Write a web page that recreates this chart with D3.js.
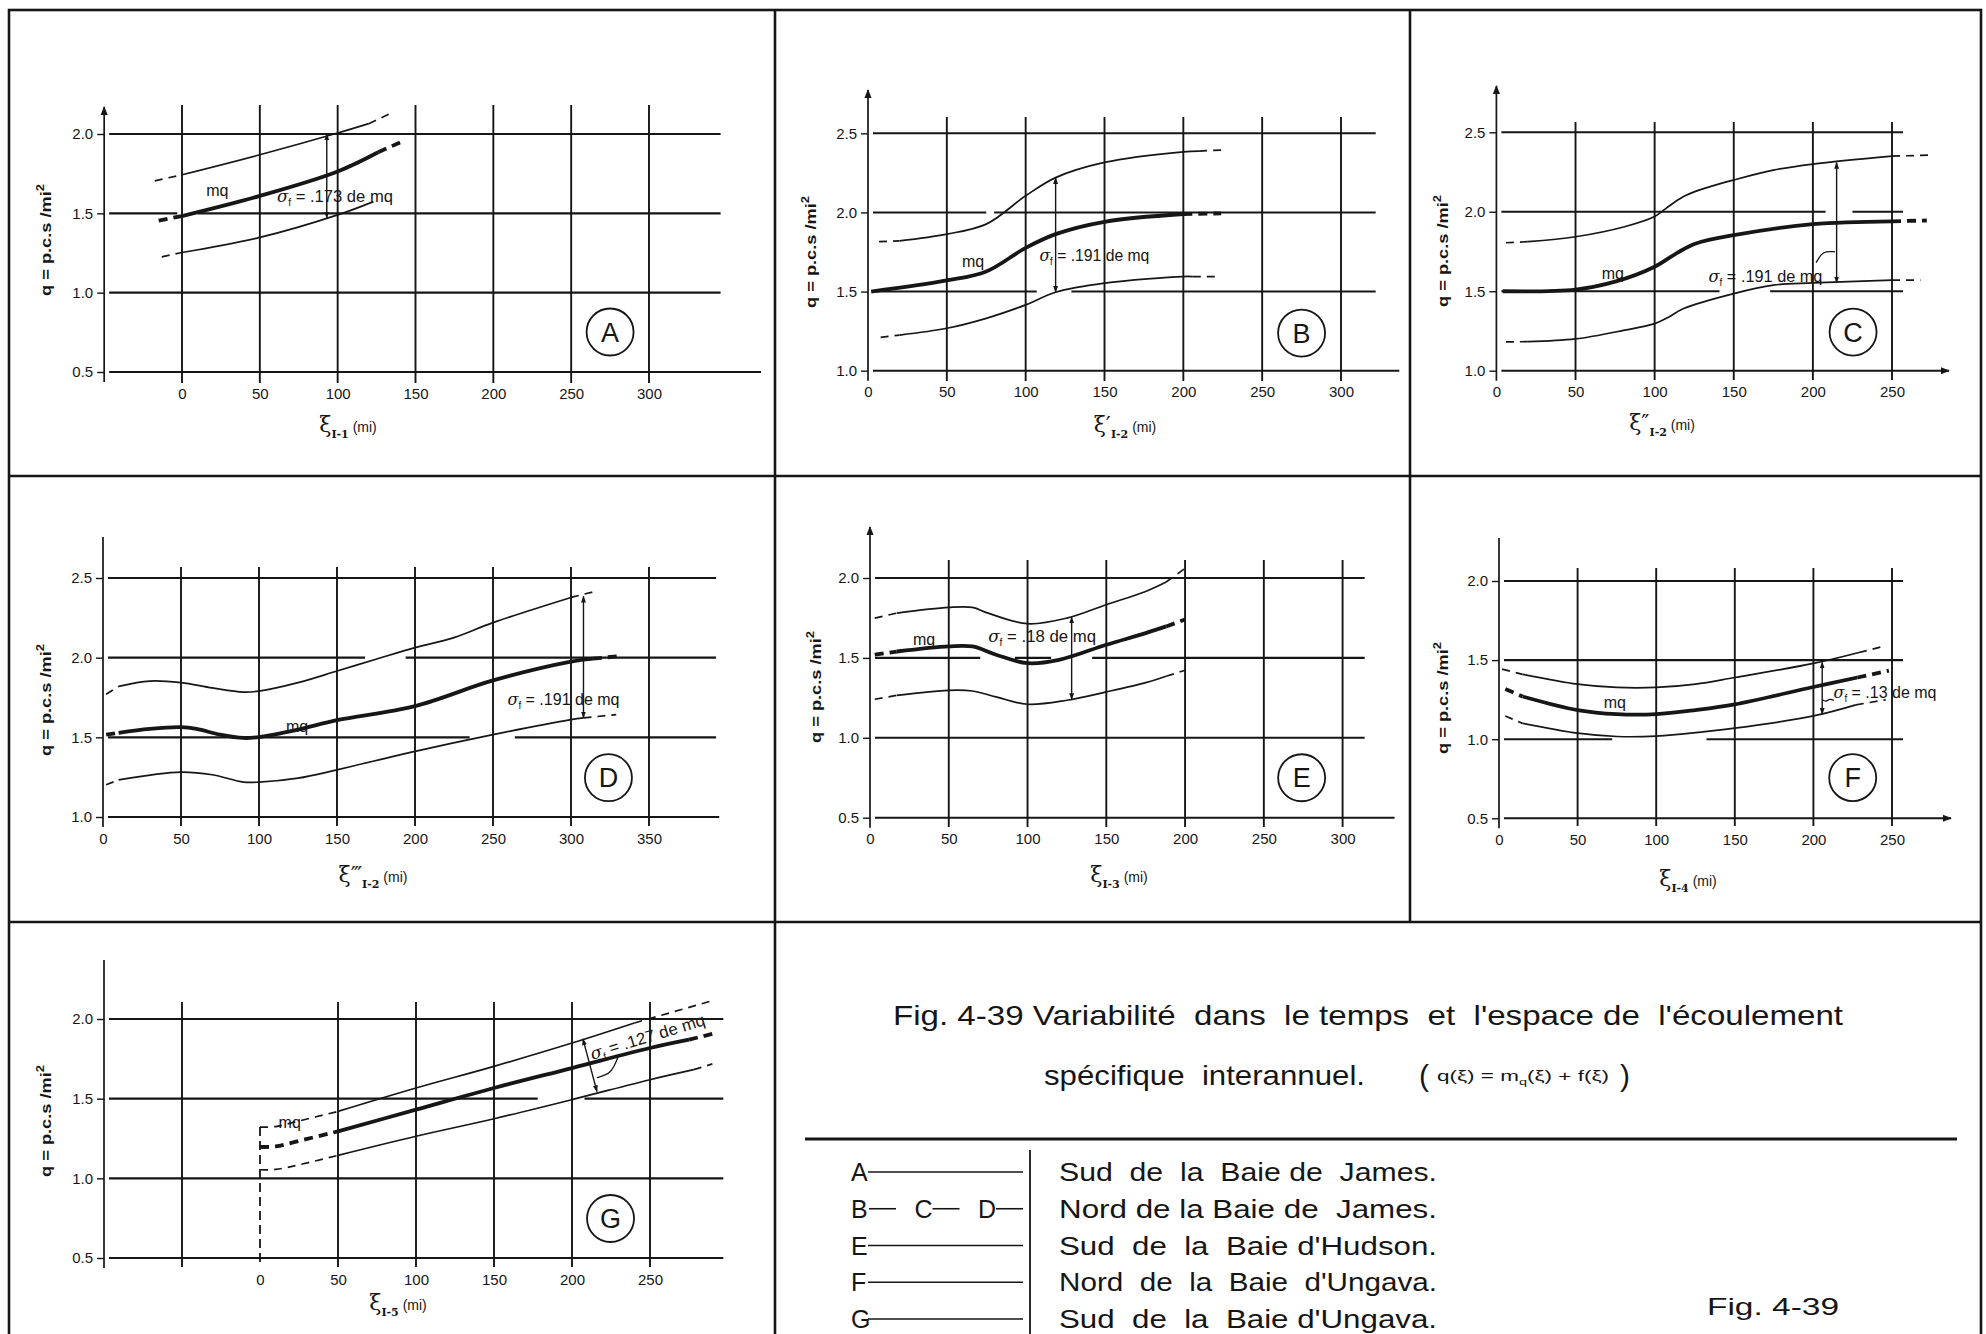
<!DOCTYPE html>
<html><head><meta charset="utf-8">
<script src="https://cdn.jsdelivr.net/npm/d3@7/dist/d3.min.js"></script>
<style>
html,body{margin:0;padding:0;background:#fff;}
svg{display:block;}
text{font-family:"Liberation Sans","DejaVu Sans",sans-serif;fill:#161616;white-space:pre;}
</style></head><body>
<svg id="fig" width="1986" height="1334" xmlns="http://www.w3.org/2000/svg"></svg>
<script>
// ===================== DATA =====================
const panelIds = ["A","B","C","D","E","F","G"];

// y tick values (q, p.c.s/mi²)
const yTicksA = [0.5,1.0,1.5,2.0];
const yTicksB = [1.0,1.5,2.0,2.5];
const yTicksC = [1.0,1.5,2.0,2.5];
const yTicksD = [1.0,1.5,2.0,2.5];
const yTicksE = [0.5,1.0,1.5,2.0];
const yTicksF = [0.5,1.0,1.5,2.0];
const yTicksG = [0.5,1.0,1.5,2.0];

// x tick labels (mi)
const xTicksA = [0,50,100,150,200,250,300];
const xTicksB = [0,50,100,150,200,250,300];
const xTicksC = [0,50,100,150,200,250];
const xTicksD = [0,50,100,150,200,250,300,350];
const xTicksE = [0,50,100,150,200,250,300];
const xTicksF = [0,50,100,150,200,250];
const xTicksG = [0,50,100,150,200,250];

// vertical grid lines (mi)
const xGridA = [0,50,100,150,200,250,300];
const xGridB = [50,100,150,200,250,300];
const xGridC = [50,100,150,200,250];
const xGridD = [50,100,150,200,250,300,350];
const xGridE = [50,100,150,200,250,300];
const xGridF = [50,100,150,200,250];
const xGridG = [-50,50,100,150,200,250];

// breaks in the drawn horizontal grid lines [q, from ξ, to ξ]
const gapsA = [[1.5,-3,10]];
const gapsB = [[2.0,75,80],[1.5,107,129]];
const gapsC = [[2.0,208,225],[1.5,141,173]];
const gapsD = [[2.0,168,194],[1.5,235,264]];
const gapsE = [[1.5,70,92],[1.5,115,141]];
const gapsF = [[1.0,72,132]];
const gapsG = [[1.5,178,208]];

// curves [ξ (mi), q] : upper = mq + σf, mean = mq, lower = mq - σf
const aUpper = [[-17.5,1.705],[0,1.743],[50,1.869],[100,2.006],[120,2.065],[135,2.135]];
const aMean  = [[-15,1.454],[0,1.483],[50,1.61],[100,1.764],[126,1.885],[142,1.955]];
const aLower = [[-13,1.226],[0,1.253],[50,1.348],[100,1.49],[123,1.574]];

const bUpper = [[7,1.815],[20,1.82],[50,1.863],[75,1.926],[100,2.105],[119,2.22],[150,2.316],[200,2.383],[210,2.388],[224,2.394]];
const bMean  = [[2,1.5],[50,1.57],[75,1.627],[100,1.776],[119,1.863],[150,1.941],[200,1.99],[224,1.994]];
const bLower = [[8,1.211],[20,1.225],[50,1.268],[75,1.331],[100,1.416],[119,1.496],[150,1.553],[200,1.595],[206,1.595],[222,1.595]];

const cUpper = [[6,1.805],[20,1.812],[50,1.843],[81,1.906],[100,1.97],[107,2.02],[118,2.094],[128,2.136],[150,2.2],[175,2.262],[200,2.3],[250,2.35],[276,2.357]];
const cMean  = [[4,1.5],[50,1.51],[75,1.56],[100,1.654],[114,1.74],[126,1.8],[150,1.853],[200,1.922],[250,1.94],[272,1.945]];
const cLower = [[6,1.181],[20,1.183],[50,1.2],[81,1.255],[100,1.296],[109,1.338],[118,1.39],[150,1.485],[175,1.538],[200,1.552],[250,1.57],[268,1.57]];

const dUpper = [[2,1.77],[10,1.82],[30,1.853],[50,1.843],[70,1.81],[90,1.784],[100,1.79],[125,1.843],[150,1.916],[175,1.99],[200,2.063],[225,2.126],[250,2.22],[300,2.378],[317,2.42]];
const dMean  = [[2,1.517],[10,1.528],[30,1.553],[50,1.564],[60,1.553],[75,1.517],[90,1.496],[100,1.502],[125,1.549],[150,1.608],[200,1.696],[250,1.857],[300,1.975],[314,1.994],[332,2.01]];
const dLower = [[2,1.202],[10,1.233],[50,1.282],[70,1.265],[90,1.219],[100,1.219],[125,1.244],[150,1.296],[200,1.412],[250,1.517],[300,1.611],[308,1.622],[329,1.643]];

const eUpper = [[3,1.749],[17,1.78],[50,1.816],[65,1.816],[75,1.78],[100,1.714],[125,1.749],[150,1.833],[175,1.916],[188,1.975],[200,2.06]];
const eMean  = [[3,1.52],[17,1.54],[50,1.572],[65,1.572],[80,1.52],[100,1.467],[120,1.488],[150,1.582],[175,1.655],[188,1.697],[200,1.74]];
const eLower = [[3,1.241],[17,1.266],[50,1.297],[65,1.293],[80,1.256],[100,1.21],[125,1.235],[150,1.287],[175,1.345],[188,1.385],[200,1.423]];

const fUpper = [[2,1.443],[15,1.41],[50,1.348],[75,1.327],[100,1.327],[125,1.348],[150,1.39],[200,1.479],[229,1.548],[246,1.59]];
const fMean  = [[4,1.317],[15,1.27],[50,1.184],[75,1.158],[100,1.158],[125,1.184],[150,1.22],[200,1.33],[228,1.39],[248,1.433]];
const fLower = [[4,1.147],[15,1.1],[50,1.038],[75,1.017],[100,1.02],[150,1.07],[200,1.147],[227,1.217],[246,1.249]];

const gUpper = [[0,1.322],[10,1.325],[25,1.36],[50,1.42],[100,1.567],[150,1.703],[200,1.849],[240,1.975],[290,2.115]];
const gMean  = [[0,1.197],[10,1.2],[25,1.235],[50,1.295],[100,1.431],[150,1.567],[200,1.692],[250,1.818],[275,1.87],[292,1.912]];
const gLower = [[0,1.054],[10,1.056],[25,1.085],[50,1.144],[100,1.264],[150,1.374],[200,1.494],[250,1.619],[278,1.682],[290,1.718]];

// drawn (solid) span of each curve [from, to] in mi: upper, mean, lower ; outside = dashed extrapolation
const aSolid = [[0,120],[0,126],[0,123]];
const bSolid = [[20,210],[2,200],[20,206]];
const cSolid = [[20,250],[4,250],[20,250]];
const dSolid = [[10,300],[10,314],[10,308]];
const eSolid = [[17,188],[17,188],[17,188]];
const fSolid = [[15,229],[15,228],[15,227]];
const gSolid = [[50,240],[50,275],[50,278]];

// σf as fraction of mq
const sigmaValues = [".173",".191",".191",".191",".18",".13",".127"];
// σf arrows [ξ, q] from upper to lower curve
const aSigma = [[93,2.0],[93,1.47]];
const bSigma = [[119,2.22],[119,1.496]];
const cSigma = [[215,2.31],[215,1.553]];
const dSigma = [[308,2.385],[308,1.622]];
const eSigma = [[128,1.755],[128,1.24]];
const fSigma = [[205.6,1.487],[205.6,1.157]];
const gSigma = [[207,1.875],[216,1.544]];

// x-axis label parts
const xLabelPrimes = ["", "′", "″", "‴", "", "", ""];
const xLabelSubs   = ["I-1","I-2","I-2","I-2","I-3","I-4","I-5"];

// legend
const legendKeys  = ["A","B—C—D","E","F","G"];
const legendNames = ["Sud  de  la  Baie de  James.","Nord de la Baie de  James.","Sud  de  la  Baie d'Hudson.","Nord  de  la  Baie  d'Ungava.","Sud  de  la  Baie d'Ungava."];
const titleLine1 = "Fig. 4-39 Variabilité  dans  le temps  et  l'espace de  l'écoulement";
const titleLine2 = "spécifique  interannuel.";
const figTag = "Fig. 4-39";

// ===================== LAYOUT =====================
const L = {
  A:{xd:[0,300],xr:[182,649],yd:[0.5,2.0],yr:[372,134],axisAt:-50,axisTop:107,yArrow:true,xArrowTo:null,gTop:105,gBot:383,hEnd:346,hEndB:372,
     ylab:[51,240],xlab:[348,432],circ:[275,0.752],sig:[61,1.572],sigW:116,mq:[15.5,1.61],ticks:[yTicksA,xTicksA,xGridA],gaps:gapsA,data:[aUpper,aMean,aLower],solid:aSolid,arrow:aSigma},
  B:{xd:[0,300],xr:[868,1341],yd:[1.0,2.5],yr:[370.7,133.3],axisAt:0,axisTop:90,yArrow:true,xArrowTo:null,gTop:117,gBot:381,hEnd:322,hEndB:337,
     ylab:[816,252],xlab:[1125,432],circ:[275,1.238],sig:[108.7,1.695],sigW:110,mq:[59.6,1.655],ticks:[yTicksB,xTicksB,xGridB],gaps:gapsB,data:[bUpper,bMean,bLower],solid:bSolid,arrow:bSigma},
  C:{xd:[0,250],xr:[1496.4,1892],yd:[1.0,2.5],yr:[370.7,132.3],axisAt:0,axisTop:86,yArrow:true,xArrowTo:286,gTop:122,gBot:380,hEnd:257,hEndB:286,
     ylab:[1448,251],xlab:[1662,430],circ:[225.4,1.243],sig:[134,1.56],sigW:114,mq:[66.6,1.58],ticks:[yTicksC,xTicksC,xGridC],gaps:gapsC,data:[cUpper,cMean,cLower],solid:cSolid,arrow:cSigma},
  D:{xd:[0,350],xr:[103,649],yd:[1.0,2.5],yr:[817,578],axisAt:0,axisTop:537,yArrow:false,xArrowTo:null,gTop:567,gBot:826,hEnd:393,hEndB:395,
     ylab:[51,700],xlab:[373,882],circ:[324,1.247],sig:[259.3,1.70],sigW:112,mq:[117.3,1.535],ticks:[yTicksD,xTicksD,xGridD],gaps:gapsD,data:[dUpper,dMean,dLower],solid:dSolid,arrow:dSigma},
  E:{xd:[0,300],xr:[870,1342.6],yd:[0.5,2.0],yr:[817.7,578],axisAt:0,axisTop:527,yArrow:true,xArrowTo:null,gTop:560,gBot:827,hEnd:314,hEndB:333,
     ylab:[821,687],xlab:[1119,882],circ:[274,0.75],sig:[75,1.60],sigW:108,mq:[27.3,1.58],ticks:[yTicksE,xTicksE,xGridE],gaps:gapsE,data:[eUpper,eMean,eLower],solid:eSolid,arrow:eSigma},
  F:{xd:[0,250],xr:[1499,1892],yd:[0.5,2.0],yr:[818.3,581],axisAt:0,axisTop:538,yArrow:false,xArrowTo:287.5,gTop:568,gBot:826,hEnd:257,hEndB:287.5,
     ylab:[1448,698],xlab:[1688,886],circ:[225,0.757],sig:[212.8,1.26],sigW:103,mq:[66.6,1.2],ticks:[yTicksF,xTicksF,xGridF],gaps:gapsF,data:[fUpper,fMean,fLower],solid:fSolid,arrow:fSigma},
  G:{xd:[0,250],xr:[260,650],yd:[0.5,2.0],yr:[1258,1019],axisAt:-100,axisTop:960,yArrow:false,xArrowTo:null,gTop:1002,gBot:1267,hEnd:297,hEndB:297,
     ylab:[51,1121],xlab:[398,1310],circ:[224.7,0.748],sig:[213,1.745],sigW:119,mq:[11.9,1.315],ticks:[yTicksG,xTicksG,xGridG],gaps:gapsG,data:[gUpper,gMean,gLower],solid:gSolid,arrow:gSigma,
     shortGrid:[[0,1.322]], sigRot:-17}
};
// small leader squiggles (ξ, q)
const leaders = {
  C:[[214,1.748],[208,1.752],[205,1.73],[202,1.68]],
  F:[[205.6,1.25],[208,1.235],[210.5,1.258],[213,1.245]],
  G:[[230,1.774],[227,1.70],[224,1.655],[216,1.632]]
};

// ===================== DRAW =====================
const ink = "#161616";
const tickFont = "DejaVu Sans, Liberation Sans, sans-serif";
const svg = d3.select("#fig");
svg.append("rect").attr("width",1986).attr("height",1334).attr("fill","#fff");
const defs = svg.append("defs");
defs.append("marker").attr("id","axArr").attr("viewBox","0 0 10 10").attr("refX",9).attr("refY",5)
  .attr("markerWidth",9).attr("markerHeight",9).attr("markerUnits","userSpaceOnUse").attr("orient","auto")
  .append("path").attr("d","M0,1 L10,5 L0,9 Z").attr("fill",ink);
defs.append("marker").attr("id","sgArr").attr("viewBox","0 0 10 10").attr("refX",9).attr("refY",5)
  .attr("markerWidth",7).attr("markerHeight",7).attr("markerUnits","userSpaceOnUse").attr("orient","auto-start-reverse")
  .append("path").attr("d","M0,1.5 L10,5 L0,8.5 Z").attr("fill",ink);

// frame
const fr = svg.append("g").attr("stroke",ink).attr("fill","none").attr("stroke-width",2.6);
fr.append("rect").attr("x",9).attr("y",10).attr("width",1972).attr("height",1340);
fr.append("line").attr("x1",775).attr("y1",10).attr("x2",775).attr("y2",1334);
fr.append("line").attr("x1",1410).attr("y1",10).attr("x2",1410).attr("y2",922);
fr.append("line").attr("x1",9).attr("y1",476).attr("x2",1981).attr("y2",476);
fr.append("line").attr("x1",9).attr("y1",922).attr("x2",1981).attr("y2",922);

panelIds.forEach((id,pi)=>{
  const p = L[id];
  const x = d3.scaleLinear().domain(p.xd).range(p.xr);
  const y = d3.scaleLinear().domain(p.yd).range(p.yr);
  const [yT,xT,xG] = p.ticks;
  const g = svg.append("g");
  const ax = x(p.axisAt);
  const yBot = y(yT[0]);

  // horizontal grid (with drafting breaks)
  yT.forEach((v,i)=>{
    const endX = x(i===0?p.hEndB:p.hEnd);
    let segs = [[ax+5,endX]];
    p.gaps.filter(gp=>gp[0]===v).forEach(gp=>{
      const g0 = x(gp[1]), g1 = x(gp[2]);
      segs = segs.flatMap(s=> (g1<=s[0]||g0>=s[1]) ? [s] : [[s[0],Math.max(s[0],g0)],[Math.min(s[1],g1),s[1]]]).filter(s=>s[1]-s[0]>1);
    });
    segs.forEach((s,si)=>{
      g.append("line").attr("x1",s[0]).attr("x2",s[1]).attr("y1",y(v)).attr("y2",y(v))
        .attr("stroke",ink).attr("stroke-width",2.1)
        .attr("marker-end",(i===0&&p.xArrowTo&&si===segs.length-1)?"url(#axArr)":null);
    });
  });
  // vertical grid
  xG.forEach(v=>{
    g.append("line").attr("x1",x(v)).attr("x2",x(v)).attr("y1",p.gTop).attr("y2",p.gBot)
      .attr("stroke",ink).attr("stroke-width",1.9);
  });
  (p.shortGrid||[]).forEach(s=>{
    g.append("line").attr("x1",x(s[0])).attr("x2",x(s[0])).attr("y1",y(s[1])).attr("y2",p.gBot)
      .attr("stroke",ink).attr("stroke-width",1.8).attr("stroke-dasharray","9,5");
  });
  // y axis line
  g.append("line").attr("x1",ax).attr("x2",ax).attr("y1",yBot+10).attr("y2",p.axisTop)
    .attr("stroke",ink).attr("stroke-width",1.7).attr("marker-end",p.yArrow?"url(#axArr)":null);
  // y ticks & labels
  const ya = g.append("g").attr("transform",`translate(${ax},0)`)
    .call(d3.axisLeft(y).tickValues(yT).tickFormat(d3.format(".1f")).tickSize(7).tickPadding(4));
  ya.select(".domain").remove();
  ya.selectAll("line").attr("stroke",ink).attr("stroke-width",1.4);
  ya.selectAll("text").attr("font-size",15).attr("font-family",tickFont).attr("fill",ink);
  // x tick labels
  const xa = g.append("g").attr("transform",`translate(0,${yBot})`)
    .call(d3.axisBottom(x).tickValues(xT).tickFormat(d3.format("d")).tickSize(0).tickPadding(16));
  xa.select(".domain").remove();
  xa.selectAll("text").attr("font-size",15).attr("font-family",tickFont).attr("fill",ink);

  // curves
  const line = d3.line().x(d=>x(d[0])).y(d=>y(d[1])).curve(d3.curveCatmullRom.alpha(0.5));
  p.data.forEach((pts,ci)=>{
    const [s0,s1] = p.solid[ci];
    const w = ci===1 ? 3.8 : 1.7;
    const dash = ci===1 ? "9,6" : "8,6";
    const pre = pts.filter(d=>d[0]<=s0), mid = pts.filter(d=>d[0]>=s0 && d[0]<=s1), post = pts.filter(d=>d[0]>=s1);
    [[pre,dash],[mid,null],[post,dash]].forEach(([seg,da])=>{
      if(seg.length<2) return;
      g.append("path").attr("d",line(seg)).attr("fill","none").attr("stroke",ink)
        .attr("stroke-width",w).attr("stroke-dasharray",da).attr("stroke-linecap","butt");
    });
  });
  // sigma arrow
  g.append("line").attr("x1",x(p.arrow[0][0])).attr("y1",y(p.arrow[0][1])).attr("x2",x(p.arrow[1][0])).attr("y2",y(p.arrow[1][1]))
    .attr("stroke",ink).attr("stroke-width",1.4).attr("marker-start","url(#sgArr)").attr("marker-end","url(#sgArr)");
  if(leaders[id]){
    g.append("path").attr("d",d3.line().x(d=>x(d[0])).y(d=>y(d[1])).curve(d3.curveBasis)(leaders[id]))
      .attr("fill","none").attr("stroke",ink).attr("stroke-width",1.3);
  }
  // sigma label
  const sx = x(p.sig[0]), sy = y(p.sig[1]);
  const st = g.append("text").attr("x",sx).attr("y",sy).attr("font-size",16.5)
    .attr("textLength",p.sigW).attr("lengthAdjust","spacingAndGlyphs")
    .attr("transform",p.sigRot?`rotate(${p.sigRot},${sx},${sy})`:null);
  st.append("tspan").attr("font-family","DejaVu Serif, serif").attr("font-style","italic").text("σ");
  st.append("tspan").attr("font-size",10).attr("dy",4).text("f");
  st.append("tspan").attr("dy",-4).text(` = ${sigmaValues[pi]} de mq`);
  // mq label
  g.append("text").attr("x",x(p.mq[0])).attr("y",y(p.mq[1])).attr("font-size",16).text("mq");
  // circle letter
  g.append("circle").attr("cx",x(p.circ[0])).attr("cy",y(p.circ[1])).attr("r",23.5)
    .attr("fill","none").attr("stroke",ink).attr("stroke-width",1.8);
  g.append("text").attr("x",x(p.circ[0])).attr("y",y(p.circ[1])+9.5).attr("text-anchor","middle").attr("font-size",27).text(id);
  // y label
  const yl = g.append("text").attr("transform",`translate(${p.ylab[0]},${p.ylab[1]}) rotate(-90)`)
    .attr("text-anchor","middle").attr("font-size",14).attr("font-weight","bold")
    .attr("textLength",112).attr("lengthAdjust","spacingAndGlyphs");
  yl.append("tspan").text("q = p.c.s /mi");
  yl.append("tspan").attr("font-size",10).attr("dy",-7).text("2");
  // x label
  const xl = g.append("text").attr("x",p.xlab[0]).attr("y",p.xlab[1]).attr("text-anchor","middle");
  xl.append("tspan").attr("font-size",22).attr("font-family","DejaVu Serif, serif").text("ξ"+xLabelPrimes[pi]);
  xl.append("tspan").attr("font-size",11).attr("font-weight","bold").attr("dy",6).attr("font-family","DejaVu Serif, serif").text(xLabelSubs[pi]);
  xl.append("tspan").attr("font-size",14).attr("dy",-6).text(" (mi)");
});

// ===================== CAPTION & LEGEND =====================
const cap = svg.append("g");
cap.append("text").attr("x",893).attr("y",1025).attr("font-size",28).attr("textLength",950).attr("lengthAdjust","spacingAndGlyphs").text(titleLine1);
cap.append("text").attr("x",1044).attr("y",1085).attr("font-size",28).attr("textLength",321).attr("lengthAdjust","spacingAndGlyphs").text(titleLine2);
cap.append("text").attr("x",1419).attr("y",1086).attr("font-size",30).text("(");
const fm = cap.append("text").attr("x",1437).attr("y",1081).attr("font-size",14).attr("textLength",172).attr("lengthAdjust","spacingAndGlyphs");
fm.append("tspan").text("q(ξ) = m");
fm.append("tspan").attr("font-size",9).attr("dy",4).text("q");
fm.append("tspan").attr("dy",-4).text("(ξ) + f(ξ)");
cap.append("text").attr("x",1620).attr("y",1086).attr("font-size",30).text(")");
cap.append("line").attr("x1",805).attr("x2",1957).attr("y1",1139).attr("y2",1139).attr("stroke",ink).attr("stroke-width",3);

const rowY = d3.scaleLinear().domain([0,legendKeys.length-1]).range([1172,1319]);
const leg = svg.append("g");
leg.append("line").attr("x1",1030).attr("x2",1030).attr("y1",1150).attr("y2",1334).attr("stroke",ink).attr("stroke-width",1.8);
legendKeys.forEach((k,i)=>{
  const cy = rowY(i);
  const parts = k.split("—");
  if(parts.length===1){
    leg.append("text").attr("x",851).attr("y",cy+9).attr("font-size",25).text(k);
    leg.append("line").attr("x1",868).attr("x2",1023).attr("y1",cy).attr("y2",cy).attr("stroke",ink).attr("stroke-width",1.6);
  } else {
    const px = d3.scalePoint().domain(parts).range([851,978]);
    parts.forEach(pt=>{
      leg.append("text").attr("x",px(pt)).attr("y",cy+9).attr("font-size",25).text(pt);
      leg.append("line").attr("x1",px(pt)+18).attr("x2",px(pt)+45).attr("y1",cy).attr("y2",cy).attr("stroke",ink).attr("stroke-width",1.6);
    });
  }
  leg.append("text").attr("x",1059).attr("y",cy+9).attr("font-size",25).attr("textLength",378).attr("lengthAdjust","spacingAndGlyphs").text(legendNames[i]);
});
leg.append("text").attr("x",1707).attr("y",1315).attr("font-size",24).attr("textLength",132).attr("lengthAdjust","spacingAndGlyphs").text(figTag);
</script>
</body></html>
